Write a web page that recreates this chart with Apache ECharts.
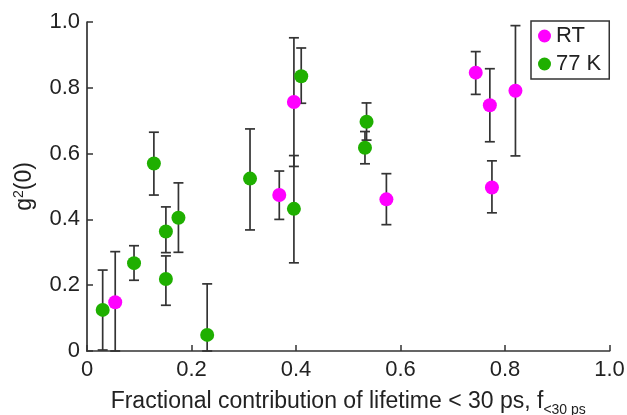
<!DOCTYPE html>
<html><head><meta charset="utf-8">
<script src="https://cdn.jsdelivr.net/npm/echarts@6/dist/echarts.min.js"></script>
<style>html,body{margin:0;padding:0;background:#fff}#c{width:627px;height:415px}</style>
</head><body><div id="c"></div>
<script>
// RT series
const rtX    = [0.054, 0.368, 0.396, 0.573, 0.744, 0.771, 0.775, 0.820];
const rtY    = [0.148, 0.474, 0.757, 0.461, 0.846, 0.747, 0.497, 0.791];
const rtLow  = [0.000, 0.400, 0.561, 0.384, 0.780, 0.636, 0.420, 0.593];
const rtHigh = [0.302, 0.547, 0.952, 0.539, 0.910, 0.858, 0.578, 0.989];
// 77 K series
const lnX    = [0.030, 0.090, 0.128, 0.151, 0.151, 0.175, 0.230, 0.312, 0.396, 0.410, 0.535, 0.532];
const lnY    = [0.125, 0.267, 0.570, 0.363, 0.219, 0.405, 0.049, 0.524, 0.432, 0.835, 0.697, 0.618];
const lnLow  = [0.003, 0.215, 0.474, 0.299, 0.139, 0.300, 0.000, 0.368, 0.268, 0.753, 0.641, 0.569];
const lnHigh = [0.246, 0.320, 0.665, 0.438, 0.289, 0.511, 0.204, 0.675, 0.594, 0.921, 0.754, 0.667];
const xTicks = [0, 0.2, 0.4, 0.6, 0.8, 1.0];
const yTicks = [0, 0.2, 0.4, 0.6, 0.8, 1.0];

const FONT = 'Liberation Sans, Arial, sans-serif';
const AX = '#333';
const fmt = v => v === 0 ? '0' : v.toFixed(1);

function errData(xs, lo, hi){ return xs.map((x,i)=>[x, lo[i], hi[i]]); }
function errItem(params, api){
  const x = api.value(0);
  const p1 = api.coord([x, api.value(1)]);
  const p2 = api.coord([x, api.value(2)]);
  const w = 5;
  const st = {stroke:'#333', lineWidth:1.7, fill:null};
  return {type:'group', children:[
    {type:'line', shape:{x1:p1[0],y1:p1[1],x2:p2[0],y2:p2[1]}, style:st},
    {type:'line', shape:{x1:p1[0]-w,y1:p1[1],x2:p1[0]+w,y2:p1[1]}, style:st},
    {type:'line', shape:{x1:p2[0]-w,y1:p2[1],x2:p2[0]+w,y2:p2[1]}, style:st}
  ]};
}

const chart = echarts.init(document.getElementById('c'), null, {renderer:'canvas'});
chart.setOption({
  animation:false,
  textStyle:{fontFamily:FONT},
  grid:{left:87, right:17.5, top:22, bottom:64, containLabel:false, outerBoundsMode:'none'},
  legend:{
    orient:'vertical', left:531, top:21,
    data:['RT','77 K'],
    icon:'circle', itemWidth:13, itemHeight:13, itemGap:4,
    padding:[3,8,3,7],
    borderColor:'#333', borderWidth:1.5, borderRadius:0,
    textStyle:{fontFamily:FONT, fontSize:22, lineHeight:24, color:'#222'}
  },
  xAxis:{
    type:'value', min:0, max:1, interval:0.2,
    name:'{a|Fractional contribution of lifetime < 30 ps, f}{b|<30 ps}',
    nameLocation:'middle', nameGap:36,
    nameTextStyle:{rich:{
      a:{fontFamily:FONT, fontSize:23, color:'#222', lineHeight:26, verticalAlign:'bottom'},
      b:{fontFamily:FONT, fontSize:14, color:'#222', lineHeight:14, verticalAlign:'bottom', padding:[0,0,-4,0]}
    }},
    axisLine:{lineStyle:{color:AX, width:1.7}},
    axisTick:{inside:true, length:6, lineStyle:{color:AX, width:1.5}},
    axisLabel:{formatter:fmt, fontSize:22, color:'#222', margin:8, fontFamily:FONT},
    splitLine:{show:false}
  },
  yAxis:{
    type:'value', min:0, max:1, interval:0.2,
    name:'{a|g}{s|2}{a|(0)}',
    nameLocation:'middle', nameGap:49, nameRotate:90,
    nameTextStyle:{rich:{
      a:{fontFamily:FONT, fontSize:23, color:'#222', lineHeight:26},
      s:{fontFamily:FONT, fontSize:14, color:'#222', verticalAlign:'top', padding:[0,0,9,0]}
    }},
    axisLine:{show:true, lineStyle:{color:AX, width:1.7}},
    axisTick:{show:true, inside:true, length:6, lineStyle:{color:AX, width:1.5}},
    axisLabel:{formatter:fmt, fontSize:22, color:'#222', margin:7, fontFamily:FONT},
    splitLine:{show:false}
  },
  series:[
    {type:'custom', name:'errRT', renderItem:errItem, data:errData(rtX, rtLow, rtHigh), z:2, silent:true},
    {type:'custom', name:'err77', renderItem:errItem, data:errData(lnX, lnLow, lnHigh), z:2, silent:true},
    {type:'scatter', name:'RT', data:rtX.map((x,i)=>[x, rtY[i]]), symbolSize:14,
     itemStyle:{color:'#FF00FF', opacity:1}, z:5},
    {type:'scatter', name:'77 K', data:lnX.map((x,i)=>[x, lnY[i]]), symbolSize:14,
     itemStyle:{color:'#1FAF00', opacity:1}, z:5}
  ]
});
</script></body></html>
